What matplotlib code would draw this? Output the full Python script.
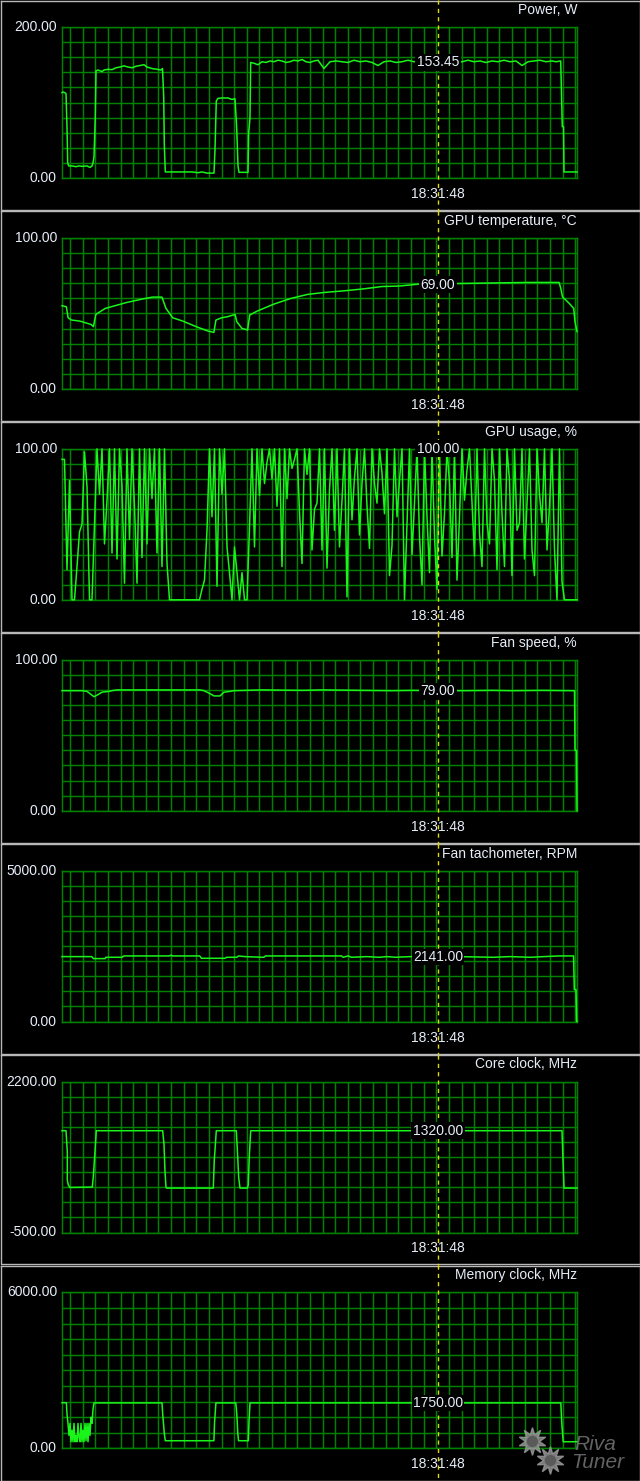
import numpy as np
import matplotlib.pyplot as plt

W, H = 640, 1481

# time axis in samples (0 .. 515), cursor at sample 376
cursor_t = 376
time_label = '18:31:48'

power_t = [0, 1.3, 4, 5, 5.7, 6.7, 10, 14, 17, 20, 25, 28, 30, 31, 32, 33.3, 34, 36, 40, 42, 46, 50, 54,
           58, 62, 66, 70, 74, 78, 82, 85, 90, 95, 99, 100.5, 101.7, 102.3, 103.3, 110, 120, 130, 136,
           140, 145, 152, 153, 154.3, 156, 160, 166, 170, 173, 174.7, 176, 177, 186, 186.7, 188, 188.7,
           192, 196, 200, 204, 208, 212, 216, 220, 224, 228, 232, 236, 240, 244, 248, 252, 256, 262,
           268, 274, 280, 286, 292, 298, 304, 310, 316, 322, 328, 334, 340, 346, 352, 358, 364, 370,
           376, 382, 388, 394, 400, 406, 412, 418, 424, 430, 436, 442, 448, 454, 460, 466, 472, 478,
           484, 490, 494, 498.7, 500.3, 501.5, 502, 515]
power_v = [113, 114, 112, 68, 20, 16, 16, 15, 16, 15.5, 16, 14, 16, 20, 28, 82, 142, 143, 141, 143, 144,
           143.5, 146, 147, 148.5, 147, 146, 148, 149, 150, 147, 145, 144, 143, 145, 108, 45, 8, 8, 8,
           8, 7, 8, 6.5, 6.5, 38, 102, 105.5, 106, 106, 104, 105, 66, 16, 7.5, 7.5, 60, 80, 153,
           152, 150, 154, 153, 155, 154, 156, 155, 153, 154, 156, 155, 157, 154, 153, 155, 156, 145,
           154, 155, 154, 153, 156, 154, 155, 153, 149, 154, 155, 153, 154, 156, 154, 155, 153, 154,
           153.5, 154, 155, 153, 154, 156, 154, 155, 153, 155, 154, 156, 154, 155, 149, 154, 155, 156,
           154, 155, 154, 155, 68, 68, 8, 8]

temp_t = [0, 4.4, 6.1, 9.5, 17.9, 29, 31.4, 33.8, 43.2, 65.1, 80.3, 90.5, 99.9, 104, 110.7, 120.8, 134.3,
          146.1, 151.9, 153.9, 159.6, 165.4, 173.1, 174.8, 179.9, 185.6, 187.7, 195.1, 212, 228.8,
          245.7, 262.6, 279.5, 299.7, 320, 336.8, 357, 397.6, 465, 497.1, 498.8, 500.5, 507.3, 511.7,
          513, 515]
temp_v = [55.1, 54.4, 47.1, 45.6, 44.9, 42.7, 41.2, 49.3, 53.3, 57.3, 59.5, 60.8, 60.8, 53.3, 47.1, 44.9,
          41.2, 38.3, 37.4, 45.6, 47.1, 47.8, 49.3, 44.5, 40.1, 39, 48.9, 51.5, 56.2, 59.9, 62.6, 63.9,
          64.8, 66.1, 67.8, 68.1, 69.4, 69.8, 70.5, 70.5, 66.5, 61, 56.6, 53.3, 44.5, 37.9]

# GPU usage, one reading every 2.5 samples
usage_v = [93, 93, 20, 79, 0, 0, 22, 45, 50, 98, 75, 0, 0, 50, 100,
           70, 100, 37, 66, 100, 31, 100, 27, 100, 75, 11, 100, 40, 100, 62, 11, 100, 28, 100, 37,
           100, 67, 100, 31, 100, 22, 100,
           24,
           0, 0, 0, 0, 0, 0, 0, 0, 0, 0, 0, 0, 0,
           7, 13, 46, 100, 55, 100, 9, 100, 70, 100, 35, 18, 0, 35, 18, 0, 18, 0, 0, 48, 100,
           35, 100, 69, 100, 77, 91, 100, 80, 100, 62, 100, 22, 100, 67, 100, 87, 93, 100, 58, 24,
           100, 83, 100, 33, 60,
           64, 100, 33, 100, 21, 73, 100, 46, 100, 35, 66, 100, 2, 100, 53, 81, 100, 43, 77, 100,
           62, 34, 100, 77, 64, 100, 84, 57, 100, 16, 36, 100, 55, 79, 100, 0, 51, 100, 30, 64,
           100, 42, 10, 100, 55, 18, 100, 42, 7, 100, 29, 57, 100, 77, 28, 100, 13, 55, 100, 66,
           86, 100, 64, 29, 100, 44, 22, 100, 51, 37, 100, 79, 20, 100, 57, 22, 100, 79, 16, 100,
           46, 51, 100, 27, 64, 100, 33, 16, 100, 70, 51, 100, 33, 62, 100, 33, 0, 100,
           12, 0, 0, 0, 0, 0, 0]
usage_t = np.arange(len(usage_v)) * 2.5

fan_t = [0, 20, 25, 30, 32, 35, 40, 47, 50, 55, 138, 142, 145, 148, 152, 158, 162, 168, 172, 200, 240,
         260, 300, 330, 350, 400, 430, 450, 480, 510, 512.5, 513, 514.5, 515]
fan_v = [79.5, 79.5, 79, 76.5, 75.5, 76.5, 78.5, 79, 79.5, 80, 80, 79.5, 78.5, 77.5, 76, 76, 78.5, 79, 79.5,
         80, 79.7, 80, 79.7, 79.5, 79.7, 79.5, 79.7, 79.5, 79.7, 79.5, 79.5, 40, 40, 0]

tach_t = [0, 29.7, 31.4, 43.2, 43.9, 60, 61.8, 107.3, 109, 110.7, 137.7, 139.4, 163, 164.7, 174.8, 176.5,
          183.3, 201.8, 203.5, 279.5, 281.1, 286, 289.6, 304.8, 316.6, 325, 333.4, 347, 397.6, 414.5,
          431.3, 448.2, 468.5, 482, 497.1, 511.6, 512.3, 514, 514.7, 515]
tach_v = [2152, 2152, 2086, 2086, 2130, 2130, 2174, 2174, 2200, 2174, 2174, 2097, 2097, 2130, 2130, 2174,
          2150, 2130, 2174, 2174, 2130, 2174, 2130, 2152, 2130, 2152, 2130, 2150, 2152, 2140, 2130,
          2152, 2130, 2152, 2174, 2174, 1060, 1060, 0, 0]

core_t = [0, 4, 5.3, 5.3, 6.3, 8, 30.3, 31.3, 33, 34.3, 100.7, 102, 103, 104, 104.7, 151.3, 152.3, 154.3,
          174.3, 175.3, 176.7, 178, 185.3, 186.3, 187.3, 188.7, 500, 501, 502, 515]
core_v = [1320, 1320, 946, 438, 348, 306, 312, 498, 946, 1320, 1320, 1077, 587, 306, 294, 294, 796, 1320,
          1320, 993, 480, 294, 294, 348, 868, 1320, 1320, 800, 294, 294]

mem_t = [0, 4.4, 5, 6, 7, 8, 9, 10, 11, 12, 13, 14, 15, 16, 17, 18, 19, 20, 21, 22, 23, 24, 25, 26,
         27, 28, 29, 30, 31, 32, 100, 100.7, 102.3, 103.3, 151.9, 152.6, 153.9, 173.8, 174.8, 175.8,
         176.5, 186.3, 187, 188, 498.8, 499.8, 501.2, 515]
mem_v = [1756, 1756, 1320, 962, 500, 962, 256, 700, 256, 962, 256, 500, 256, 962, 400, 256, 962, 256, 700,
         256, 962, 300, 962, 256, 962, 500, 1200, 962, 1500, 1750, 1750, 1320, 577, 295, 295, 1026, 1750,
         1750, 1320, 577, 295, 295, 1026, 1750, 1750, 962, 256, 256]

panels = [
    ('Power, W', 0, 200, power_t, power_v, '153.45', 153.45),
    ('GPU temperature, \u00b0C', 0, 100, temp_t, temp_v, '69.00', 69.0),
    ('GPU usage, %', 0, 100, usage_t, usage_v, '100.00', 100.0),
    ('Fan speed, %', 0, 100, fan_t, fan_v, '79.00', 79.0),
    ('Fan tachometer, RPM', 0, 5000, tach_t, tach_v, '2141.00', 2141.0),
    ('Core clock, MHz', -500, 2200, core_t, core_v, '1320.00', 1320.0),
    ('Memory clock, MHz', 0, 6000, mem_t, mem_v, '1750.00', 1750.0),
]

GRID = '#008200'
LINE = '#19f519'
TEXT = '#e6edf7'
CURSOR = '#e6d800'
FONT = 'Liberation Sans'

fig = plt.figure(figsize=(W / 100, H / 100), dpi=100, facecolor='black')

# window frames behind everything
bg = fig.add_axes([0, 0, 1, 1])
bg.set_xlim(0, W)
bg.set_ylim(H, 0)
bg.axis('off')
bg.set_zorder(0)
pitch = 210.9
for k in range(7):
    y0 = k * pitch + 0.5
    y1 = (k + 1) * pitch - 1.0 if k < 6 else H - 0.5
    bg.plot([0.5, W - 0.5, W - 0.5, 0.5, 0.5], [y0, y0, y1, y1, y0], color='#b8b8b8', lw=1.0)

x_left, x_right = 62, 577
for k, (title, lo, hi, t, v, lab, labv) in enumerate(panels):
    top = 27 + pitch * k
    bot = top + (156 if k == 6 else 151)
    ax = fig.add_axes([x_left / W, 1 - bot / H, (x_right - x_left) / W, (bot - top) / H])
    ax.set_zorder(1)
    ax.set_facecolor('black')
    ax.set_xlim(0, x_right - x_left)
    ax.set_ylim(lo, hi)
    ax.set_xticks(8 + np.arange(41) * 12.63)
    ax.set_yticks(np.linspace(lo, hi, 11))
    ax.tick_params(length=0, labelbottom=False, labelleft=False)
    ax.grid(True, color=GRID, lw=1.05)
    for s in ax.spines.values():
        s.set_color(GRID)
        s.set_linewidth(1.05)
    ax.plot(t, v, color=LINE, lw=1.1, zorder=3, clip_on=False)

    # cursor line across the whole window
    win0 = k * pitch
    win1 = (k + 1) * pitch if k < 6 else H
    fa = lambda y: (bot - y) / (bot - top)
    ax.plot([cursor_t, cursor_t], [fa(win0), fa(win1)], transform=ax.get_xaxis_transform(),
            color=CURSOR, lw=1.0, ls=(0, (3, 3)), zorder=4, clip_on=False)

    ax.text(cursor_t, labv, lab, ha='center', va='center', color=TEXT, fontsize=10, family=FONT,
            zorder=6, clip_on=False, bbox=dict(facecolor='black', edgecolor='none', pad=1.0))

    fig.text(57 / W, 1 - top / H, f'{hi:.2f}', ha='right', va='center', color=TEXT, fontsize=10, family=FONT)
    fig.text(57 / W, 1 - bot / H, f'{lo:.2f}', ha='right', va='center', color=TEXT, fontsize=10, family=FONT)
    fig.text(x_right / W, 1 - (top - 17) / H, title, ha='right', va='center', color=TEXT, fontsize=10,
             family=FONT)
    fig.text(438 / W, 1 - (bot + 16) / H, time_label, ha='center', va='center', color=TEXT, fontsize=10,
             family=FONT)

# watermark
fg = fig.add_axes([0, 0, 1, 1])
fg.set_xlim(0, W)
fg.set_ylim(H, 0)
fg.axis('off')
fg.set_zorder(5)
fg.plot([532, 550], [1441, 1460], ls='none', marker=(10, 1, 0), ms=20, color='#9a9a9a', alpha=0.8)
fg.plot([532, 550], [1441, 1460], ls='none', marker='o', ms=7, color='#5a5a5a')
fg.text(595, 1444, 'Riva', ha='center', va='center', color='#6e6e6e', fontsize=15, style='italic',
        family=FONT, alpha=0.9)
fg.text(598, 1463, 'Tuner', ha='center', va='center', color='#6e6e6e', fontsize=15, style='italic',
        family=FONT, alpha=0.9)

fig.savefig('out.png', dpi=100, facecolor='black')
